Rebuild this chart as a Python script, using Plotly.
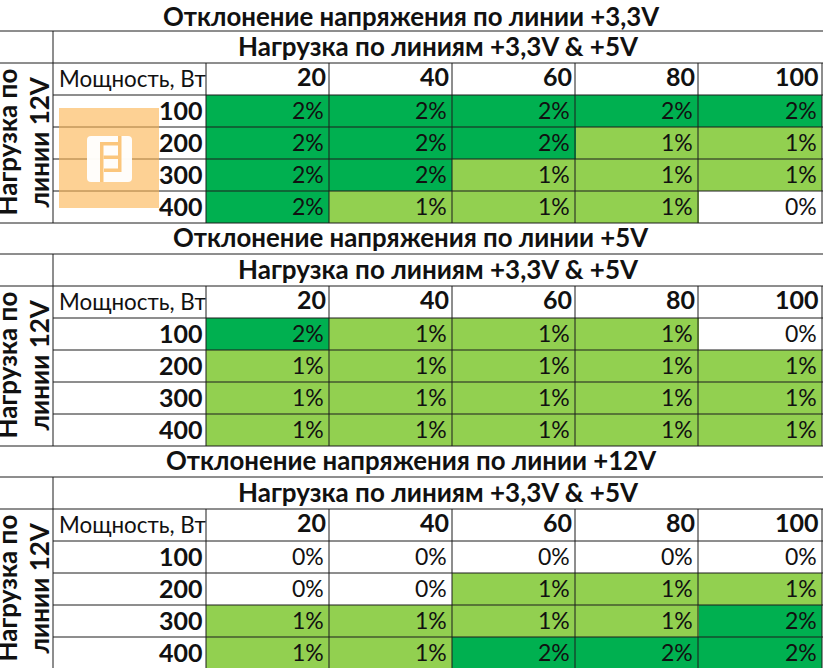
import plotly.graph_objects as go

# one block per voltage line, rows are 12V load, columns the +3,3V & +5V load
titles = ["Отклонение напряжения по линии +3,3V",
          "Отклонение напряжения по линии +5V",
          "Отклонение напряжения по линии +12V"]
subtitle = "Нагрузка по линиям +3,3V & +5V"
side_labels = ["Нагрузка по", "линии 12V"]
corner_label = "Мощность, Вт"
col_labels = ["20", "40", "60", "80", "100"]
row_labels = ["100", "200", "300", "400"]

values_33 = [[2, 2, 2, 2, 2],
             [2, 2, 2, 1, 1],
             [2, 2, 1, 1, 1],
             [2, 1, 1, 1, 0]]
values_5 = [[2, 1, 1, 1, 0],
            [1, 1, 1, 1, 1],
            [1, 1, 1, 1, 1],
            [1, 1, 1, 1, 1]]
values_12 = [[0, 0, 0, 0, 0],
             [0, 0, 1, 1, 1],
             [1, 1, 1, 1, 2],
             [1, 1, 2, 2, 2]]

# layout in page pixels
col_edges = [206, 329, 452, 575, 698, 822]
block_tops = [-1, 222, 445]
row_h = 32
left_x = 53

font_name = "Lato, Liberation Sans, sans-serif"
ink = "#111111"
line_col = "#1c1c1c"

fig = go.Figure()

for top, title, values in zip(block_tops, titles, [values_33, values_5, values_12]):
    data_top = top + 3 * row_h
    y_edges = [data_top + i * row_h for i in range(5)]

    fig.add_trace(go.Heatmap(
        x=col_edges, y=y_edges, z=values,
        zmin=0, zmax=2, showscale=False, hoverinfo="skip",
        colorscale=[[0, "#ffffff"], [0.5, "#92d050"], [1, "#00b050"]],
    ))

    # first title sits against the page top, keep it on the page
    title_y = max(15.7, top + row_h / 2 - 1)
    fig.add_annotation(x=411, y=title_y, text="<b>%s</b>" % title,
                       font=dict(family=font_name, size=25.8, color=ink), showarrow=False)
    fig.add_annotation(x=438, y=top + 1.5 * row_h - 1.5, text="<b>%s</b>" % subtitle,
                       font=dict(family=font_name, size=26, color=ink), showarrow=False)
    for x, lab in zip([6.5, 38.5], side_labels):
        fig.add_annotation(x=x, y=top + 3.5 * row_h + 31, text="<b>%s</b>" % lab, textangle=-90,
                           font=dict(family=font_name, size=26, color=ink), showarrow=False)
    fig.add_annotation(x=205.5, y=top + 2.5 * row_h - 1, text=corner_label, xanchor="right", xshift=2,
                       font=dict(family=font_name, size=22.4, color=ink), showarrow=False)

    for j, lab in enumerate(col_labels):
        fig.add_annotation(x=col_edges[j + 1], y=top + 2.5 * row_h - 3, text="<b>%s</b>" % lab,
                           xanchor="right", xshift=-1,
                           font=dict(family=font_name, size=25, color=ink), showarrow=False)
    for i, lab in enumerate(row_labels):
        fig.add_annotation(x=col_edges[0], y=data_top + (i + 0.5) * row_h - 1, text="<b>%s</b>" % lab,
                           xanchor="right", xshift=-1,
                           font=dict(family=font_name, size=25, color=ink), showarrow=False)
        for j in range(5):
            fig.add_annotation(x=col_edges[j + 1], y=data_top + (i + 0.5) * row_h - 1, text="%d%%" % values[i][j],
                               xanchor="right", xshift=-3,
                               font=dict(family=font_name, size=23, color=ink), showarrow=False)

    # table rules
    bottom = top + 7 * row_h
    for k in [1, 2]:
        fig.add_shape(type="line", x0=0, x1=823, y0=top + k * row_h, y1=top + k * row_h)
    for k in [3, 4, 5, 6]:
        fig.add_shape(type="line", x0=left_x, x1=823, y0=top + k * row_h, y1=top + k * row_h)
    fig.add_shape(type="line", x0=0, x1=823, y0=bottom, y1=bottom)
    fig.add_shape(type="line", x0=left_x, x1=left_x, y0=top + row_h, y1=bottom)
    for x in col_edges:
        fig.add_shape(type="line", x0=x, x1=x, y0=top + 2 * row_h, y1=bottom)

fig.update_shapes(line=dict(color=line_col, width=1), layer="above")

# watermark
fig.add_shape(type="rect", x0=59, x1=159, y0=108, y1=208, fillcolor="#fbb552", opacity=0.62,
              line_width=0, layer="above")
fig.add_shape(type="path", layer="above", fillcolor="#ffffff", opacity=0.95, line_width=0,
              path="M 91 136 L 128 136 Q 132 136 132 140 L 132 178 Q 132 182 128 182 L 91 182 "
                   "Q 87 182 87 178 L 87 140 Q 87 136 91 136 Z")
for path in ["M 100 142 L 118 142 L 118 145.5 L 100 145.5 Z",
             "M 100 145 L 103.5 145 L 103.5 182 L 100 182 Z",
             "M 118 136 L 121.5 136 L 121.5 172 L 118 172 Z",
             "M 104 168.5 L 118 168.5 L 118 172 L 104 172 Z",
             "M 103.5 155.5 L 118 155.5 L 118 159 L 103.5 159 Z"]:
    fig.add_shape(type="path", path=path, fillcolor="#fbc67c", line_width=0, layer="above")

fig.update_xaxes(range=[0, 823], visible=False, fixedrange=True)
fig.update_yaxes(range=[668, 0], visible=False, fixedrange=True)
fig.update_layout(width=823, height=668, margin=dict(l=0, r=0, t=0, b=0),
                  paper_bgcolor="white", plot_bgcolor="white", showlegend=False)

fig.write_html("out.html", config=dict(displayModeBar=False), post_script="document.body.style.margin='0';")
